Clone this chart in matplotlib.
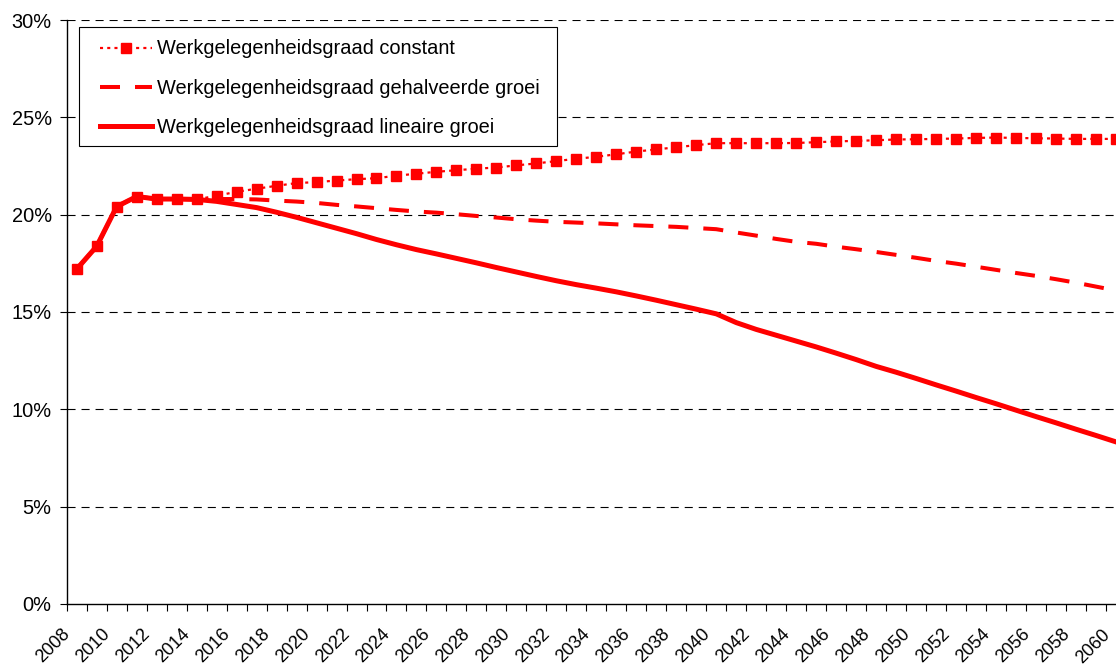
"""Werkgelegenheidsgraad scenarios 2008-2060."""

import matplotlib

matplotlib.use("agg")
import matplotlib.pyplot as plt
from matplotlib import rcParams
from matplotlib.patches import Rectangle
from matplotlib.ticker import FixedLocator, FuncFormatter, NullFormatter
from matplotlib.transforms import ScaledTranslation

rcParams["font.family"] = ["Liberation Sans", "DejaVu Sans"]
rcParams["lines.scale_dashes"] = False

years = list(range(2008, 2061))

constant = [
    17.2, 18.37, 20.41, 20.93, 20.8, 20.8, 20.78, 20.97, 21.17, 21.33,
    21.48, 21.62, 21.67, 21.75, 21.82, 21.87, 22.0, 22.1, 22.2, 22.28,
    22.36, 22.42, 22.53, 22.63, 22.75, 22.87, 22.97, 23.1, 23.24, 23.35,
    23.46, 23.57, 23.67, 23.67, 23.67, 23.67, 23.68, 23.72, 23.76, 23.79,
    23.82, 23.86, 23.87, 23.89, 23.91, 23.94, 23.96, 23.94, 23.92, 23.91,
    23.89, 23.89, 23.89,
]

gehalveerd = [
    17.2, 18.37, 20.41, 20.93, 20.8, 20.8, 20.78, 20.8, 20.8, 20.78,
    20.72, 20.67, 20.6, 20.5, 20.42, 20.33, 20.24, 20.16, 20.1, 20.02,
    19.93, 19.85, 19.76, 19.69, 19.63, 19.59, 19.55, 19.5, 19.45, 19.41,
    19.37, 19.31, 19.25, 19.08, 18.92, 18.75, 18.6, 18.5, 18.35, 18.22,
    18.08, 17.93, 17.78, 17.62, 17.48, 17.32, 17.16, 17.0, 16.85, 16.68,
    16.5, 16.3, 16.1,
]

lineair = [
    17.2, 18.37, 20.41, 20.93, 20.8, 20.8, 20.78, 20.68, 20.52, 20.36,
    20.12, 19.86, 19.58, 19.3, 19.02, 18.72, 18.45, 18.2, 17.98, 17.75,
    17.52, 17.28, 17.05, 16.82, 16.6, 16.4, 16.22, 16.03, 15.82, 15.6,
    15.37, 15.14, 14.9, 14.45, 14.1, 13.8, 13.5, 13.2, 12.88, 12.55,
    12.2, 11.9, 11.58, 11.25, 10.93, 10.6, 10.28, 9.95, 9.62, 9.3,
    8.97, 8.65, 8.32,
]

labels = [
    "Werkgelegenheidsgraad constant",
    "Werkgelegenheidsgraad gehalveerde groei",
    "Werkgelegenheidsgraad lineaire groei",
]

y_ticks = [0, 5, 10, 15, 20, 25, 30]

W, H = 1116, 666
FS = 14.4
fig = plt.figure(figsize=(W / 100, H / 100), dpi=100)
ax = fig.add_axes([66.7 / W, 62.2 / H, 1 - 66.7 / W, 583.8 / H])

x_pos = list(range(len(years)))

ax.plot(
    x_pos, constant, color="red", lw=1.6, ls=(0, (2.2, 3.0)),
    marker="s", ms=6.5, mec="red", mfc="red", label=labels[0], zorder=3,
)
ax.plot(
    x_pos, gehalveerd, color="red", lw=2.9, dashes=(14.4, 10.8),
    label=labels[1], zorder=3,
)
ax.plot(
    x_pos, lineair, color="red", lw=3.6, ls="-", label=labels[2], zorder=3,
)

ax.set_xlim(-0.5, len(years) - 1)
ax.set_ylim(0, 30)

# y axis
ax.set_yticks(y_ticks)
ax.yaxis.set_major_formatter(FuncFormatter(lambda v, p: "%d%%" % v))
ax.tick_params(axis="y", direction="out", length=5, width=0.8, pad=5.8,
               labelsize=FS, colors="black")
for yv in y_ticks[1:]:
    ax.axhline(yv, color="black", lw=0.8, dashes=(5.8, 4.3), zorder=1)

# x axis: ticks between categories, labels every other year
ax.xaxis.set_major_locator(FixedLocator([i - 0.5 for i in x_pos]))
ax.xaxis.set_major_formatter(NullFormatter())
ax.tick_params(axis="x", which="major", direction="out", length=5, width=0.8)

# rotated year labels, anchored just left of each category centre
lab_trans = ax.get_xaxis_transform() + ScaledTranslation(
    -15 / 100, -22 / 100, fig.dpi_scale_trans
)
for i, yr in zip(x_pos, years):
    if yr % 2 == 0:
        ax.text(
            i, 0, str(yr), transform=lab_trans, fontsize=13,
            rotation=45, ha="right", va="top", rotation_mode="anchor",
            clip_on=False,
        )

for side in ["top", "right"]:
    ax.spines[side].set_visible(False)
for side in ["left", "bottom"]:
    ax.spines[side].set_color("black")
    ax.spines[side].set_linewidth(1.0)

# legend frame drawn separately, entries placed inside it
ax.add_patch(
    Rectangle(
        (79.3 / W, 1 - 146.0 / H), (556.7 - 79.3) / W, (146.0 - 27.3) / H,
        transform=fig.transFigure, facecolor="white", edgecolor="black",
        lw=0.8, zorder=5, clip_on=False,
    )
)
leg = ax.legend(
    loc="upper left",
    bbox_to_anchor=(100.0 / W, 1 - 39.5 / H),
    bbox_transform=fig.transFigure,
    fontsize=FS,
    frameon=False,
    handlelength=2.6,
    handletextpad=0.24,
    borderpad=0,
    labelspacing=1.02,
    borderaxespad=0,
)
leg.set_zorder(6)

plt.savefig("out.png", dpi=100)
plt.close(fig)
